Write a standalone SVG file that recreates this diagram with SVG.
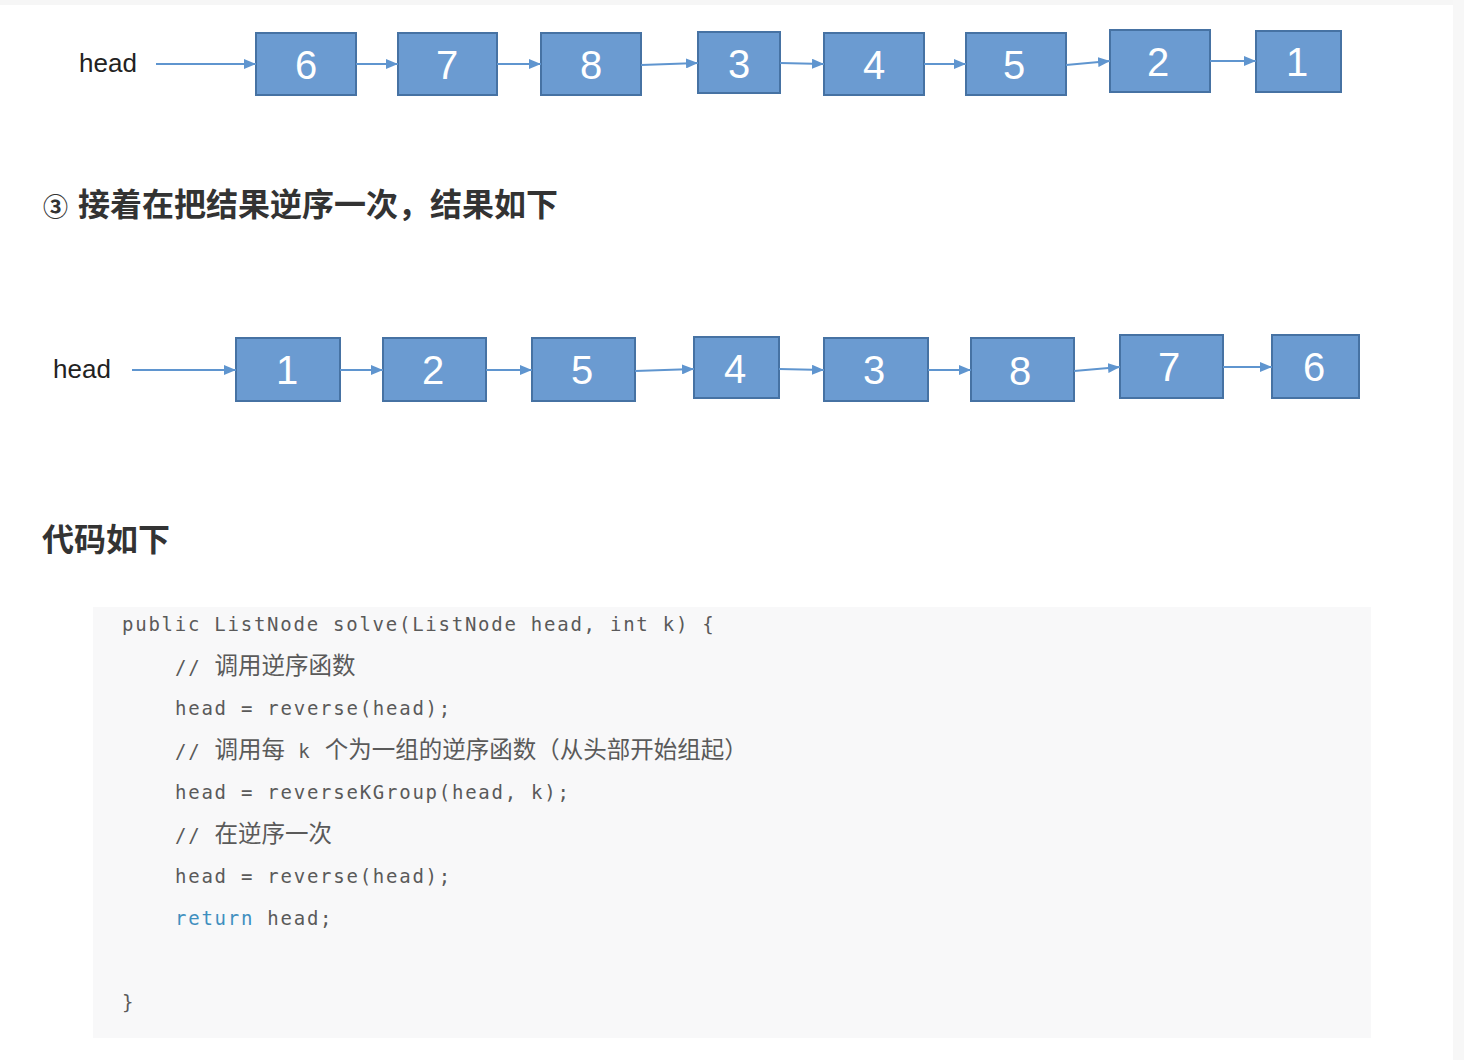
<svg xmlns="http://www.w3.org/2000/svg" width="1464" height="1060" viewBox="0 0 1464 1060">
<defs>
<marker id="ah" viewBox="0 0 12 10" refX="12" refY="5" markerWidth="12" markerHeight="10" markerUnits="userSpaceOnUse" orient="auto">
<path d="M0,0 L12,5 L0,10 Z" fill="#5f95cf"/>
</marker>
<style>
.box{fill:#6b9bd1;stroke:#4672a3;stroke-width:2}
.num{font-family:"Liberation Sans",Arial,sans-serif;font-size:40px;fill:#ffffff;text-anchor:middle}
.head{font-family:"Liberation Sans",Arial,sans-serif;font-size:26px;fill:#222222}
.conn line{stroke:#5f95cf;stroke-width:2;marker-end:url(#ah)}
.h{font-family:"Noto Sans CJK SC","Liberation Sans",sans-serif;font-weight:bold;font-size:32px;fill:#333333}
.code{font-family:"DejaVu Sans Mono","Liberation Mono",monospace;font-size:19px;letter-spacing:1.75px;fill:#5a5a5a}
.cjk{font-family:"Noto Sans CJK SC",sans-serif;font-size:23.5px;letter-spacing:0px}
.kw{fill:#3f8fbf}
</style>
</defs>
<rect x="0" y="0" width="1464" height="1060" fill="#ffffff"/>
<rect x="0" y="0" width="1464" height="5" fill="#f6f6f6"/>
<rect x="1453" y="0" width="11" height="1060" fill="#f7f7f7"/>

<!-- Row 1 -->
<text class="head" x="79" y="72">head</text>
<g id="r1n6"><rect class="box" x="256" y="33" width="100" height="62"/><text class="num" x="306" y="79">6</text></g>
<g id="r1n7"><rect class="box" x="398" y="33" width="99" height="62"/><text class="num" x="447" y="79">7</text></g>
<g id="r1n8"><rect class="box" x="541" y="33" width="100" height="62"/><text class="num" x="591" y="79">8</text></g>
<g id="r1n3"><rect class="box" x="698" y="32" width="82" height="61"/><text class="num" x="739" y="78">3</text></g>
<g id="r1n4"><rect class="box" x="824" y="33" width="100" height="62"/><text class="num" x="874" y="79">4</text></g>
<g id="r1n5"><rect class="box" x="966" y="33" width="100" height="62"/><text class="num" x="1014" y="79">5</text></g>
<g id="r1n2"><rect class="box" x="1110" y="30" width="100" height="62"/><text class="num" x="1158" y="76">2</text></g>
<g id="r1n1"><rect class="box" x="1256" y="31" width="85" height="61"/><text class="num" x="1297" y="76">1</text></g>

<g class="conn" id="r1conn">
<line x1="156" y1="64" x2="256" y2="64"/>
<line x1="356" y1="64" x2="398" y2="64"/>
<line x1="497" y1="64" x2="541" y2="64"/>
<line x1="641" y1="65" x2="698" y2="63"/>
<line x1="780" y1="63" x2="824" y2="64"/>
<line x1="924" y1="64" x2="966" y2="64"/>
<line x1="1066" y1="65" x2="1110" y2="61"/>
<line x1="1210" y1="61" x2="1256" y2="61"/>
</g>

<text class="h" x="43" y="216"><tspan font-size="25px">③</tspan> <tspan x="78">接着在把结果逆序一次，结果如下</tspan></text>

<!-- Row 2 -->
<text class="head" x="53" y="378">head</text>
<g id="r2n1"><rect class="box" x="236" y="338" width="104" height="63"/><text class="num" x="287" y="384">1</text></g>
<g id="r2n2"><rect class="box" x="383" y="338" width="103" height="63"/><text class="num" x="433" y="384">2</text></g>
<g id="r2n5"><rect class="box" x="532" y="338" width="103" height="63"/><text class="num" x="582" y="384">5</text></g>
<g id="r2n4"><rect class="box" x="694" y="337" width="85" height="61"/><text class="num" x="735" y="383">4</text></g>
<g id="r2n3"><rect class="box" x="824" y="338" width="104" height="63"/><text class="num" x="874" y="384">3</text></g>
<g id="r2n8"><rect class="box" x="971" y="338" width="103" height="63"/><text class="num" x="1020" y="385">8</text></g>
<g id="r2n7"><rect class="box" x="1120" y="335" width="103" height="63"/><text class="num" x="1169" y="381">7</text></g>
<g id="r2n6"><rect class="box" x="1272" y="335" width="87" height="63"/><text class="num" x="1314" y="381">6</text></g>

<g class="conn" id="r2conn">
<line x1="132" y1="370" x2="236" y2="370"/>
<line x1="340" y1="370" x2="383" y2="370"/>
<line x1="486" y1="370" x2="532" y2="370"/>
<line x1="635" y1="371" x2="694" y2="369"/>
<line x1="779" y1="369" x2="824" y2="370"/>
<line x1="928" y1="370" x2="971" y2="370"/>
<line x1="1074" y1="371" x2="1120" y2="367"/>
<line x1="1223" y1="367" x2="1272" y2="367"/>
</g>

<text class="h" x="42" y="551">代码如下</text>

<!-- Code block -->
<rect x="93" y="607" width="1278" height="431" fill="#f8f8f9"/>
<g class="code">
<text x="122" y="631">public ListNode solve(ListNode head, int k) {</text>
<text x="175" y="674">// <tspan class="cjk">调用逆序函数</tspan></text>
<text x="175" y="715">head = reverse(head);</text>
<text x="175" y="758">// <tspan class="cjk">调用每</tspan> k <tspan class="cjk">个为一组的逆序函数（从头部开始组起）</tspan></text>
<text x="175" y="799">head = reverseKGroup(head, k);</text>
<text x="175" y="842">// <tspan class="cjk">在逆序一次</tspan></text>
<text x="175" y="883">head = reverse(head);</text>
<text x="175" y="925"><tspan class="kw">return</tspan> head;</text>
<text x="122" y="1009">}</text>
</g>
</svg>
